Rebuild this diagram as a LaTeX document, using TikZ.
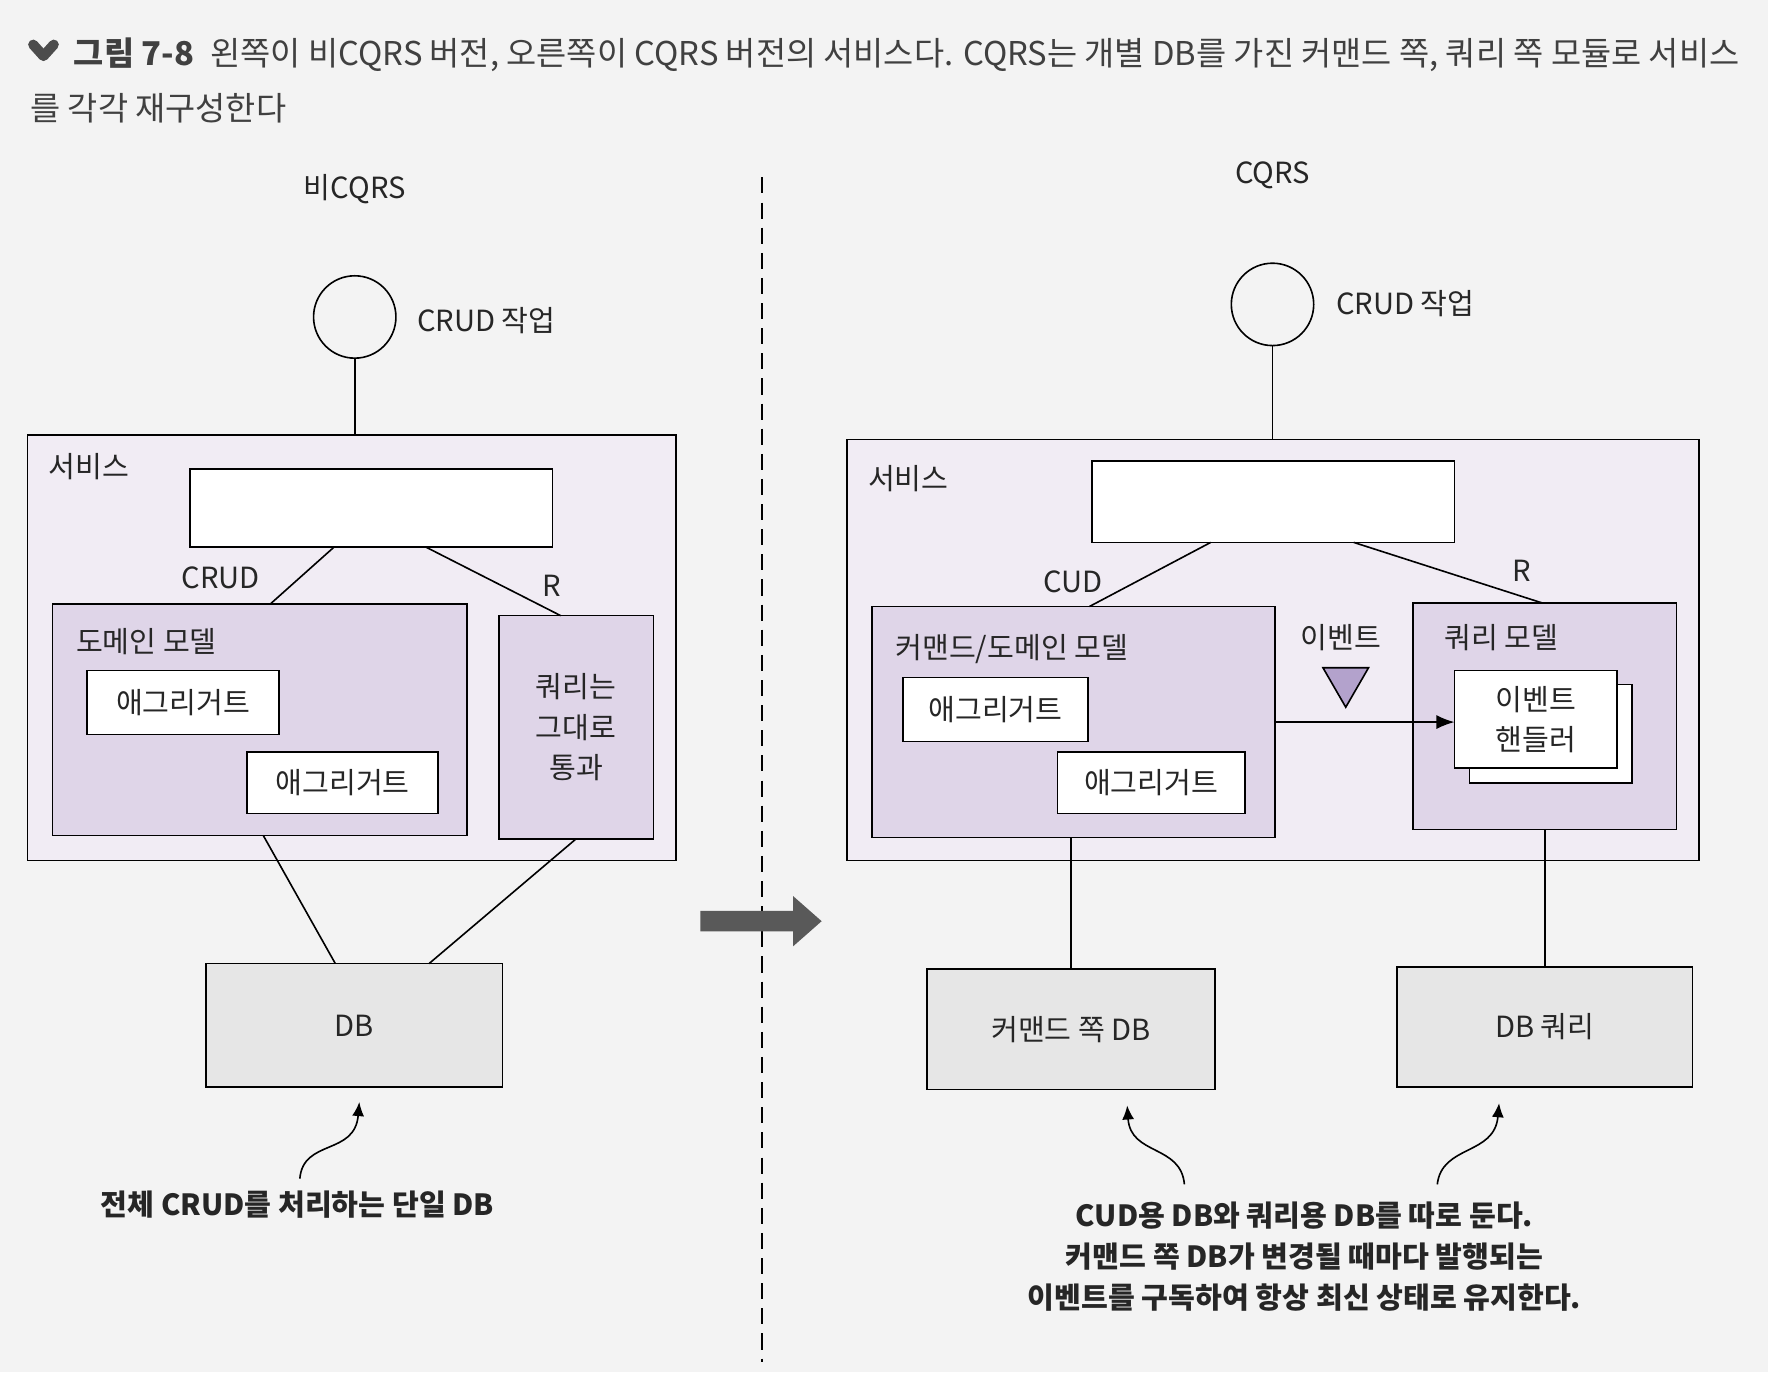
\documentclass[tikz,border=0pt]{standalone}
\usepackage{fontspec}
\setmainfont{Noto Sans CJK KR}
\usetikzlibrary{arrows.meta,shapes.geometric}
\definecolor{pagebg}{HTML}{F3F3F3}
\definecolor{svcfill}{HTML}{F1ECF4}
\definecolor{modelfill}{HTML}{DFD5E8}
\definecolor{dbfill}{HTML}{E6E6E6}
\definecolor{trifill}{HTML}{B3A2CC}
\begin{document}
\begin{tikzpicture}[x=0.02cm,y=-0.02cm,line width=0.8pt,
  every node/.style={font=\fontsize{14.5}{20}\selectfont,text=black!85},
  op node/.style={circle,draw,minimum size=1.44cm,inner sep=0pt},
  svc box/.style={draw,fill=svcfill,inner sep=0pt,outer sep=0pt},
  model box/.style={draw,fill=modelfill,inner sep=0pt,outer sep=0pt},
  white box/.style={draw,fill=white,inner sep=0pt,outer sep=0pt},
  db box/.style={draw,fill=dbfill,inner sep=0pt,outer sep=0pt},
  evt mark/.style={regular polygon,regular polygon sides=3,shape border rotate=180,draw,fill=trifill,minimum size=0.92cm,inner sep=0pt},
  cap text/.style={font=\fontsize{14.5}{20.4}\selectfont\bfseries,align=center},
  title text/.style={anchor=west,font=\fontsize{16.3}{20}\selectfont,text=black!75},
  note arrow/.style={-{Latex[length=7pt,width=6pt]}},
  evt arrow/.style={-{Latex[length=9pt,width=7pt]}},
  divider/.style={dash pattern=on 8pt off 4.5pt}]
\fill[pagebg] (0,0) rectangle (1545,1199);
\useasboundingbox (0,0) rectangle (1545,1199);
% title
\draw[black!70,line width=5pt,line cap=round,line join=round] (29,39) -- (38,49) -- (47,39);
\node[title text] (title1) at (58,48) {\textbf{그림 7-8}\enspace 왼쪽이 비CQRS 버전, 오른쪽이 CQRS 버전의 서비스다. CQRS는 개별 DB를 가진 커맨드 쪽, 쿼리 쪽 모듈로 서비스};
\node[title text] (title2) at (20,95) {를 각각 재구성한다};
% non-CQRS
\node (hdrL) at (310,165) {비CQRS};
\node[op node] (opL) at (310,277) {};
\node[anchor=west] (opLlbl) at (358,280) {CRUD 작업};
\node[svc box,minimum width=11.34cm,minimum height=7.44cm] (svcL) at (307.5,566) {};
\node[anchor=west] (svcLlbl) at (36,408) {서비스};
\node[white box,minimum width=6.34cm,minimum height=1.36cm] (apiL) at (324.5,444) {};
\node[model box,minimum width=7.24cm,minimum height=4.04cm] (domL) at (227,629) {};
\node[anchor=west] (domLlbl) at (60,561) {도메인 모델};
\node[white box,minimum width=3.36cm,minimum height=1.12cm] (aggLa) at (160,614) {애그리거트};
\node[white box,minimum width=3.34cm,minimum height=1.08cm] (aggLb) at (299.5,684) {애그리거트};
\node[model box,minimum width=2.70cm,minimum height=3.90cm,align=center] (passL) at (503.5,635.5) {쿼리는\\그대로\\통과};
\node[db box,minimum width=5.18cm,minimum height=2.16cm] (dbL) at (309.5,896) {DB};
\node (crudL) at (193,505) {CRUD};
\node (rL) at (482,512) {R};
\node[cap text] (capL) at (260,1053) {전체 CRUD를 처리하는 단일 DB};
\coordinate (tailL) at (262,1030);
\coordinate (tipL) at (314,963);
\draw (opL.south) -- (opL.south |- svcL.north);
\draw ([xshift=2.52cm]apiL.south west) -- ([xshift=3.8cm]domL.north west);
\draw ([xshift=4.12cm]apiL.south west) -- ([xshift=1.08cm]passL.north west);
\draw ([xshift=3.68cm]domL.south west) -- ([xshift=2.26cm]dbL.north west);
\draw (passL.south) -- ([xshift=3.9cm]dbL.north west);
\draw[note arrow] (tailL) .. controls (265,995) and (310,1010) .. (tipL);
% divider and arrow
\coordinate (divtop) at (666,155);
\coordinate (divbot) at (666,1190);
\draw[divider] (divtop) -- (divbot);
\fill[black!65] (612,796) -- (693,796) -- (693,783) -- (718,805) -- (693,827) -- (693,814) -- (612,814) -- cycle;
% CQRS
\node (hdrR) at (1112,153) {CQRS};
\node[op node] (opR) at (1112,266) {};
\node[anchor=west] (opRlbl) at (1161,265) {CRUD 작업};
\node[svc box,minimum width=14.90cm,minimum height=7.36cm] (svcR) at (1112.5,568) {};
\node[anchor=west] (svcRlbl) at (752,418) {서비스};
\node[white box,minimum width=6.34cm,minimum height=1.42cm] (apiR) at (1112.5,438.5) {};
\node[model box,minimum width=7.04cm,minimum height=4.04cm] (cmdR) at (938,631) {};
\node[anchor=west] (cmdRlbl) at (776,567) {커맨드/도메인 모델};
\node[white box,minimum width=3.24cm,minimum height=1.12cm] (aggRa) at (870,620) {애그리거트};
\node[white box,minimum width=3.28cm,minimum height=1.08cm] (aggRb) at (1006,684) {애그리거트};
\node[model box,minimum width=4.60cm,minimum height=3.96cm] (qryR) at (1350,626) {};
\node[anchor=west] (qryRlbl) at (1256,557) {쿼리 모델};
\node[white box,minimum width=2.84cm,minimum height=1.72cm] (hdlRb) at (1355,641) {};
\node[white box,minimum width=2.84cm,minimum height=1.70cm,align=center] (hdlR) at (1342,628.5) {이벤트\\핸들러};
\node (evtR) at (1172,557) {이벤트};
\node[evt mark] (triR) at (1176,595) {};
\node[db box,minimum width=5.04cm,minimum height=2.10cm] (cmddbR) at (936,899.5) {커맨드 쪽 DB};
\node[db box,minimum width=5.16cm,minimum height=2.10cm] (qrydbR) at (1350,897.5) {DB 쿼리};
\node (cudR) at (938,508) {CUD};
\node (rR) at (1330,499) {R};
\node[cap text] (capR) at (1140,1098) {CUD용 DB와 쿼리용 DB를 따로 둔다.\\커맨드 쪽 DB가 변경될 때마다 발행되는\\이벤트를 구독하여 항상 최신 상태로 유지한다.};
\coordinate (tailRa) at (1035,1035);
\coordinate (tipRa) at (985,966);
\coordinate (tailRb) at (1256,1035);
\coordinate (tipRb) at (1310,964);
\draw (opR.south) -- (opR.south |- svcR.north);
\draw ([xshift=2.08cm]apiR.south west) -- ([xshift=3.8cm]cmdR.north west);
\draw ([xshift=4.58cm]apiR.south west) -- ([xshift=2.26cm]qryR.north west);
\draw[evt arrow] (cmdR.east) -- (cmdR.east -| hdlR.west);
\draw (cmddbR.north |- cmdR.south) -- (cmddbR.north);
\draw (qrydbR.north |- qryR.south) -- (qrydbR.north);
\draw[note arrow] (tailRa) .. controls (1032,1000) and (988,1010) .. (tipRa);
\draw[note arrow] (tailRb) .. controls (1260,1000) and (1306,1010) .. (tipRb);
\end{tikzpicture}
\end{document}
